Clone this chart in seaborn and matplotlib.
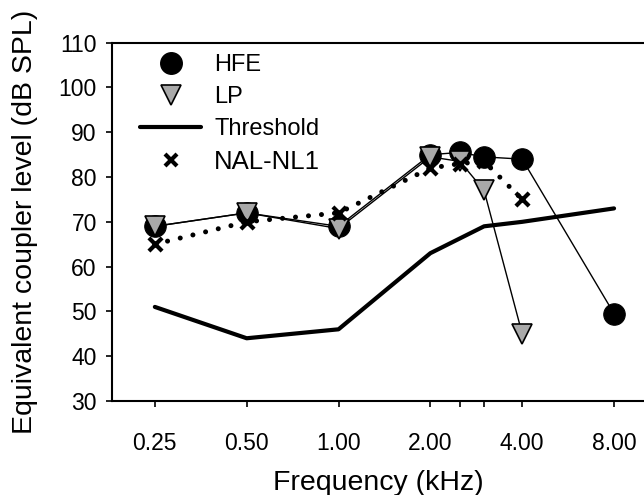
import matplotlib
matplotlib.use("Agg")
import matplotlib.pyplot as plt
import matplotlib.ticker as ticker
from matplotlib.lines import Line2D
import pandas as pd
import seaborn as sns

# frequencies in kHz, levels in dB SPL
FREQ_HFE = [0.25, 0.5, 1.0, 2.0, 2.5, 3.0, 4.0, 8.0]
LEVEL_HFE = [69, 72, 69, 85, 85.5, 84.5, 84, 49.5]

FREQ_LP = [0.25, 0.5, 1.0, 2.0, 2.5, 3.0, 4.0]
LEVEL_LP = [69, 72, 68.5, 84.5, 83.5, 77, 45]

FREQ_THR = [0.25, 0.5, 1.0, 2.0, 3.0, 4.0, 8.0]
LEVEL_THR = [51, 44, 46, 63, 69, 70, 73]

FREQ_NAL = [0.25, 0.5, 1.0, 2.0, 2.5, 3.0, 4.0]
LEVEL_NAL = [65, 70, 72, 82, 83, 83.5, 75]

X_TICKS = [0.25, 0.5, 1.0, 2.0, 2.5, 3.0, 4.0, 8.0]
X_TICK_LABELS = ["0.25", "0.50", "1.00", "2.00", "", "", "4.00", "8.00"]
Y_TICKS = [30, 40, 50, 60, 70, 80, 90, 100, 110]

GREY = "#a9a9a9"

sns.set_style("ticks")
plt.rcParams["font.family"] = ["Liberation Sans", "DejaVu Sans"]
plt.rcParams["text.color"] = "black"
plt.rcParams["axes.labelcolor"] = "black"

df_hfe = pd.DataFrame({"freq": FREQ_HFE, "level": LEVEL_HFE})
df_lp = pd.DataFrame({"freq": FREQ_LP, "level": LEVEL_LP})
df_thr = pd.DataFrame({"freq": FREQ_THR, "level": LEVEL_THR})
df_nal = pd.DataFrame({"freq": FREQ_NAL, "level": LEVEL_NAL})

fig = plt.figure(figsize=(6.44, 4.95), dpi=100)
ax = fig.add_axes([0.174, 0.19, 0.826, 0.7237])
ax.set_xscale("log", base=2)

sns.lineplot(data=df_thr, x="freq", y="level", ax=ax, color="black", lw=3.0,
             estimator=None, sort=False, zorder=2)
sns.lineplot(data=df_nal, x="freq", y="level", ax=ax, color="black", lw=3.6,
             linestyle=(0, (0.01, 2.6)), dash_capstyle="round",
             estimator=None, sort=False, zorder=3)
sns.scatterplot(data=df_nal, x="freq", y="level", ax=ax, marker="x", s=90,
                color="black", linewidth=3, zorder=6)
sns.lineplot(data=df_hfe, x="freq", y="level", ax=ax, color="black", lw=1.0,
             marker="o", markersize=15.5, markerfacecolor="black",
             markeredgecolor="black", estimator=None, sort=False, zorder=4)
sns.lineplot(data=df_lp, x="freq", y="level", ax=ax, color="black", lw=1.0,
             marker="v", markersize=14.5, markerfacecolor=GREY,
             markeredgecolor="black", markeredgewidth=1.2,
             estimator=None, sort=False, zorder=5)

ax.set_xlim(0.181, 10.03)
ax.set_ylim(30, 110)
ax.xaxis.set_major_locator(ticker.FixedLocator(X_TICKS))
ax.xaxis.set_major_formatter(ticker.FixedFormatter(X_TICK_LABELS))
ax.xaxis.set_minor_locator(ticker.NullLocator())
ax.set_yticks(Y_TICKS)

ax.set_xlabel("Frequency (kHz)", fontsize=20.5, labelpad=11)
ax.set_ylabel("Equivalent coupler level (dB SPL)", fontsize=20.5, labelpad=15)
ax.tick_params(axis="both", labelsize=16.5, width=1.2, length=4, color="black",
               labelcolor="black")
ax.tick_params(axis="x", pad=18)
ax.tick_params(axis="y", pad=7)

for side in ["left", "bottom", "top"]:
    ax.spines[side].set_linewidth(1.5)
    ax.spines[side].set_color("black")
ax.spines["right"].set_visible(False)

handles = [
    Line2D([], [], ls="none", marker="o", markersize=15.5, color="black"),
    Line2D([], [], ls="none", marker="v", markersize=14.5, markerfacecolor=GREY,
           markeredgecolor="black", markeredgewidth=1.2),
    Line2D([], [], color="black", lw=3.0),
    Line2D([], [], ls="none", marker="x", markersize=9, markeredgewidth=3,
           color="black"),
]
leg = ax.legend(handles, ["HFE", "LP", "Threshold", "NAL-NL1"], loc="upper left",
                bbox_to_anchor=(140 / 644, 1 - 54 / 495),
                bbox_transform=fig.transFigure, frameon=False, fontsize=17,
                handlelength=2.6, handletextpad=0.55, labelspacing=0.42,
                borderpad=0, borderaxespad=0)
leg.get_texts()[3].set_fontsize(18.5)

fig.savefig("out.png", dpi=100)
